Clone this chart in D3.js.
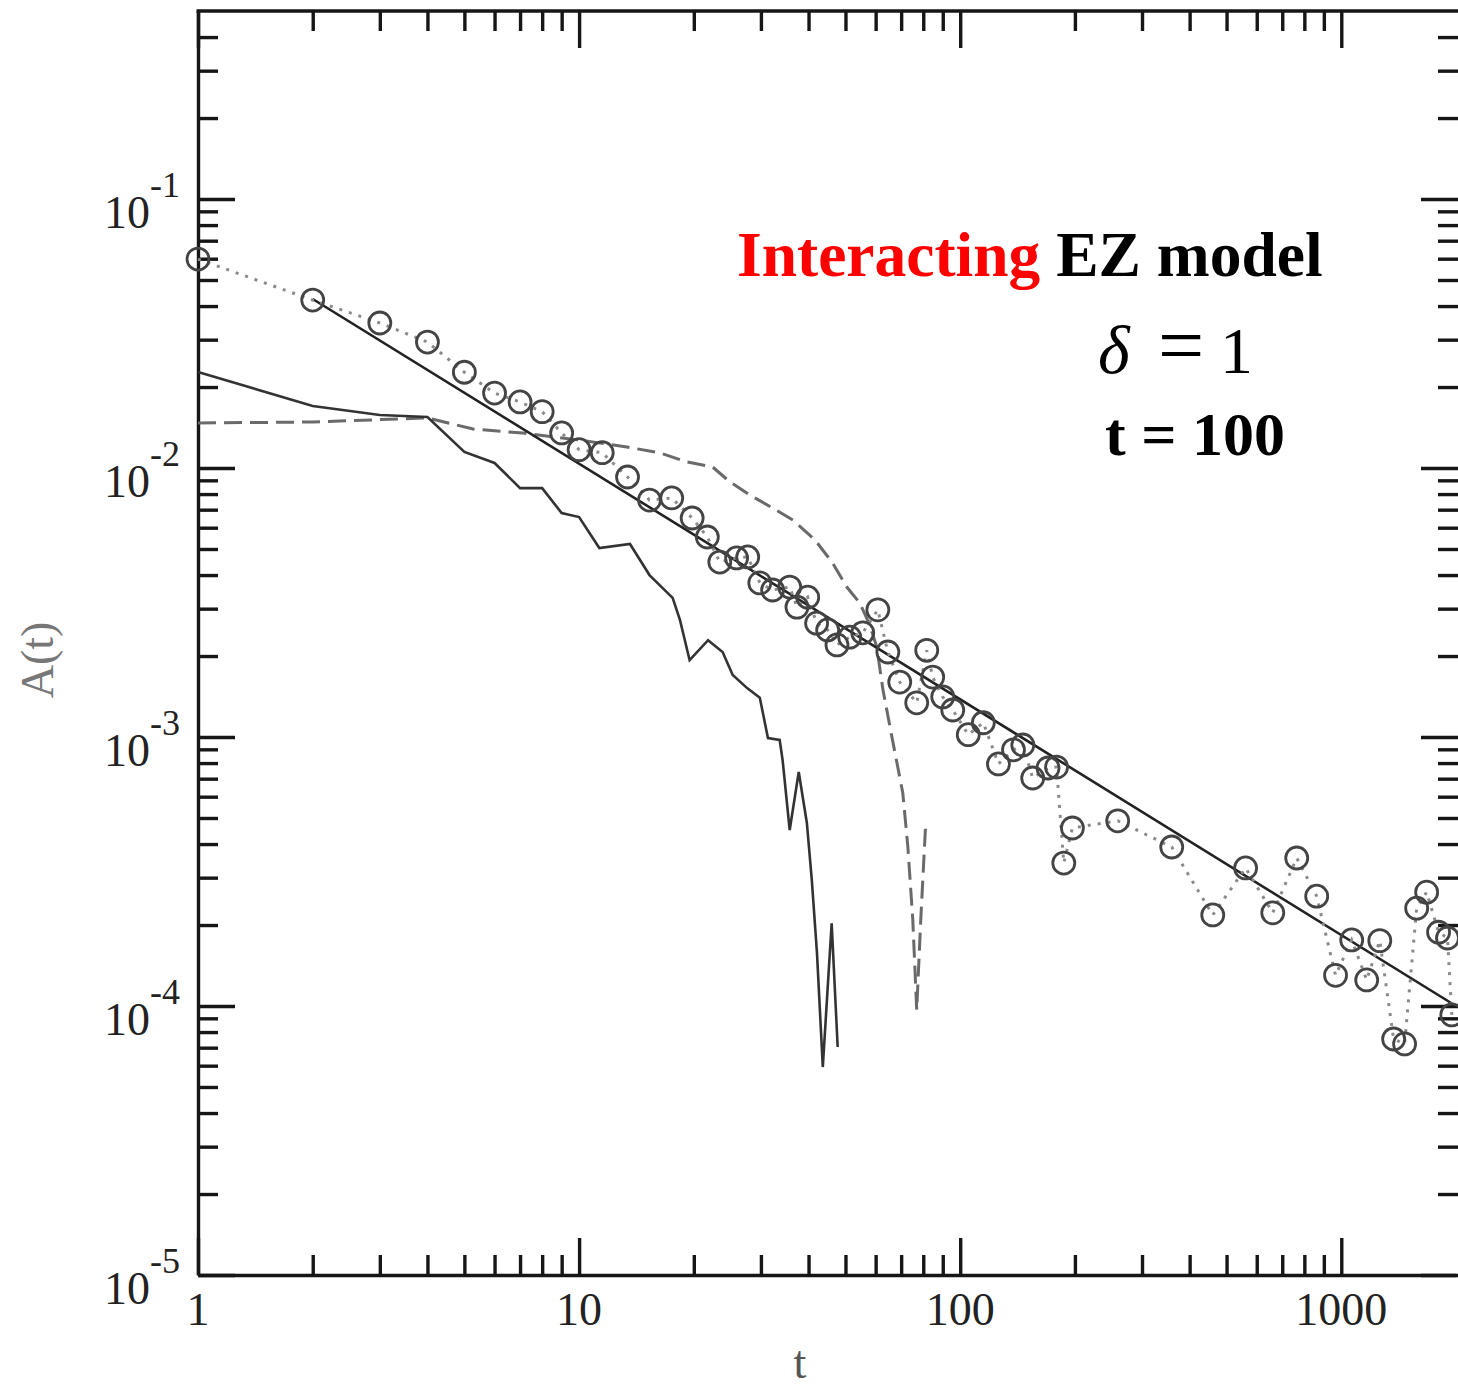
<!DOCTYPE html>
<html>
<head>
<meta charset="utf-8">
<script src="https://cdn.jsdelivr.net/npm/d3@7"></script>
<style>
  body { margin: 0; background: #fff; }
  svg { display: block; }
  .lbl { font-family: "Liberation Serif", "DejaVu Serif", serif; }
</style>
</head>
<body>
<div id="chart"></div>
<script>
// circles (joined by a dotted line)
var circleT = [1, 2, 3, 4, 5, 6, 7, 8, 9, 10,
  11.5, 13.4, 15.3, 17.5, 19.8, 21.7, 23.4, 25.9, 27.7, 29.8,
  32.2, 35.7, 37.3, 39.8, 42, 44.9, 47.5, 51.3, 55.5, 60.8,
  64.6, 69.4, 76.9, 81.7, 84.7, 90, 95.6, 105, 115, 126,
  138, 146, 155, 170, 179, 187, 197, 259, 359, 460,
  561, 661, 764, 862, 966, 1065, 1166, 1262, 1372, 1466,
  1577, 1675, 1800, 1900, 1950];
var circleA = [0.0598, 0.0421, 0.0346, 0.0294, 0.0227, 0.0190, 0.0176, 0.0162, 0.0135, 0.0117,
  0.0114, 0.00926, 0.00760, 0.00774, 0.00652, 0.00554, 0.00447, 0.00463, 0.00467, 0.00374,
  0.00352, 0.00361, 0.00304, 0.00331, 0.00265, 0.00250, 0.00220, 0.00235, 0.00244, 0.00297,
  0.00207, 0.00160, 0.00134, 0.00210, 0.00167, 0.00141, 0.00126, 0.00102, 0.00113, 0.000794,
  0.000896, 0.000934, 0.000704, 0.000767, 0.000773, 0.000340, 0.000459, 0.000488, 0.000390, 0.000218,
  0.000326, 0.000222, 0.000355, 0.000256, 0.000130, 0.000176, 0.000125, 0.000175, 0.0000754, 0.0000723,
  0.000231, 0.000265, 0.000188, 0.000179, 0.0000927];

// power-law fit
var fitT = [2, 2000];
var fitA = [0.0425, 0.0001];

// solid jagged curve
var solidT = [1, 2, 3, 4, 5, 6, 7, 8, 9, 10,
  11.3, 13.6, 15.3, 17.6, 18.4, 19.5, 21.8, 23.8, 25.3, 27.6,
  29.8, 31.3, 33.6, 34.2, 35.7, 37.7, 39.6, 40.8, 42.1, 43.6,
  46.0, 47.7];
var solidA = [0.02275, 0.0170, 0.01574, 0.01547, 0.01147, 0.01044, 0.00842, 0.00842, 0.00680, 0.00657,
  0.00504, 0.00522, 0.00400, 0.00329, 0.00272, 0.00193, 0.00229, 0.00207, 0.00170, 0.00152,
  0.00140, 0.000991, 0.000975, 0.000821, 0.000451, 0.000741, 0.000479, 0.000294, 0.000157, 0.0000593,
  0.000203, 0.0000704];

// dashed curve
var dashT = [1, 2, 4, 5.27, 7.12, 10, 13.35, 16.3, 19.2, 22.4,
  24.9, 28.05, 32.2, 36.4, 41.6, 46.3, 50.4, 54.5, 57.9, 60.4,
  62.7, 66.2, 70.7, 72.9, 75.1, 76.9, 78.8, 81.2];
var dashA = [0.0147, 0.01483, 0.01535, 0.01396, 0.01349, 0.01271, 0.01197, 0.01138, 0.01053, 0.01009,
  0.00887, 0.00794, 0.00710, 0.00641, 0.00540, 0.00443, 0.00361, 0.00315, 0.00261, 0.00216,
  0.00150, 0.00100, 0.000619, 0.000390, 0.000209, 0.0000966, 0.000209, 0.000479];

var xMajor = [1, 10, 100, 1000];
var xTickLabels = ["1", "10", "100", "1000"];
var yMajor = [1e-1, 1e-2, 1e-3, 1e-4, 1e-5];
var yTickExps = ["-1", "-2", "-3", "-4", "-5"];

var W = 1458, H = 1388;
var L = 198, R = 1456, T = 11, B = 1275;

var svg = d3.select("#chart").append("svg")
  .attr("width", W).attr("height", H);

var x = d3.scaleLog().domain([1, 2000]).range([L, R]);
var y = d3.scaleLog().domain([1e-5, 0.5]).range([B, T]);

var xMinor = [], yMinor = [];
[1, 10, 100, 1000].forEach(function(d) {
  for (var k = 2; k <= 9; k++) if (d * k < 2000) xMinor.push(d * k);
});
[1e-5, 1e-4, 1e-3, 1e-2, 1e-1].forEach(function(d) {
  for (var k = 2; k <= 9; k++) if (d * k < 0.5) yMinor.push(d * k);
});

function addAxis(axisFn, scale, vals, size, tx, ty, keepPath) {
  var g = svg.append("g")
    .attr("class", "axis")
    .attr("transform", "translate(" + tx + "," + ty + ")")
    .call(axisFn(scale).tickValues(vals).tickSize(-size).tickSizeOuter(0).tickFormat(""));
  if (!keepPath) g.select(".domain").remove();
  g.selectAll("path, line")
    .attr("stroke", "#161616")
    .attr("stroke-width", 3.4);
  return g;
}

// frame + ticks on all four sides
addAxis(d3.axisBottom, x, xMajor, 37, 0, B, true);
addAxis(d3.axisBottom, x, xMinor, 20, 0, B, false);
addAxis(d3.axisTop, x, xMajor, 37, 0, T, false);
addAxis(d3.axisTop, x, xMinor, 20, 0, T, false);
addAxis(d3.axisLeft, y, yMajor, 37, L, 0, true);
addAxis(d3.axisLeft, y, yMinor, 20, L, 0, false);
addAxis(d3.axisRight, y, yMajor, 37, W, 0, false);
addAxis(d3.axisRight, y, yMinor, 20, W, 0, false);
svg.append("line")
  .attr("x1", L - 1.5).attr("x2", W).attr("y1", T).attr("y2", T)
  .attr("stroke", "#161616").attr("stroke-width", 3.4);

// tick labels
svg.selectAll(".xlab").data(xMajor).enter().append("text")
  .attr("class", "lbl xlab")
  .attr("x", function(d) { return x(d); })
  .attr("y", B + 50)
  .attr("text-anchor", "middle")
  .attr("font-size", 46)
  .attr("fill", "#222")
  .text(function(d, i) { return xTickLabels[i]; });

var ylab = svg.selectAll(".ylab").data(yMajor).enter().append("text")
  .attr("class", "lbl ylab")
  .attr("x", 180)
  .attr("y", function(d) { return y(d) + 29; })
  .attr("text-anchor", "end")
  .attr("fill", "#222");
ylab.append("tspan").attr("font-size", 46).text("10");
ylab.append("tspan").attr("font-size", 36).attr("dy", -31)
  .text(function(d, i) { return yTickExps[i]; });

// axis titles
svg.append("text").attr("class", "lbl")
  .attr("x", 800).attr("y", 1378)
  .attr("text-anchor", "middle")
  .attr("font-size", 46).attr("fill", "#555")
  .text("t");
svg.append("text").attr("class", "lbl")
  .attr("transform", "translate(53,660) rotate(-90)")
  .attr("text-anchor", "middle")
  .attr("font-size", 46).attr("fill", "#777")
  .text("A(t)");

var line = d3.line()
  .x(function(d) { return x(d[0]); })
  .y(function(d) { return y(d[1]); });

svg.append("path")
  .datum(d3.zip(dashT, dashA))
  .attr("d", line)
  .attr("fill", "none")
  .attr("stroke", "#6a6a6a")
  .attr("stroke-width", 3)
  .attr("stroke-dasharray", "18,8");

svg.append("path")
  .datum(d3.zip(solidT, solidA))
  .attr("d", line)
  .attr("fill", "none")
  .attr("stroke", "#333")
  .attr("stroke-width", 2.6);

svg.append("path")
  .datum(d3.zip(fitT, fitA))
  .attr("d", line)
  .attr("fill", "none")
  .attr("stroke", "#222")
  .attr("stroke-width", 2.6);

var pts = d3.zip(circleT, circleA);
svg.append("path")
  .datum(pts)
  .attr("d", line)
  .attr("fill", "none")
  .attr("stroke", "#8a8a8a")
  .attr("stroke-width", 3)
  .attr("stroke-dasharray", "3,7");

svg.selectAll(".pt").data(pts).enter().append("circle")
  .attr("class", "pt")
  .attr("cx", function(d) { return x(d[0]); })
  .attr("cy", function(d) { return y(d[1]); })
  .attr("r", 11)
  .attr("fill", "none")
  .attr("stroke", "#444")
  .attr("stroke-width", 2.8);

// annotations
var t1 = svg.append("text").attr("class", "lbl")
  .attr("x", 737).attr("y", 276)
  .attr("font-size", 63.5).attr("font-weight", "bold");
t1.append("tspan").attr("fill", "#ff0000").text("Interacting");
t1.append("tspan").attr("fill", "#000").text(" EZ model");

var t2 = svg.append("text").attr("class", "lbl")
  .attr("y", 373).attr("fill", "#000");
t2.append("tspan").attr("x", 1098).attr("font-size", 68).attr("font-style", "italic").text("\u03b4");
t2.append("tspan").attr("x", 1158).attr("font-size", 82).text("=");
t2.append("tspan").attr("x", 1220).attr("font-size", 66).text("1");

svg.append("text").attr("class", "lbl")
  .attr("x", 1105).attr("y", 455)
  .attr("font-size", 62).attr("font-weight", "bold").attr("fill", "#000")
  .text("t = 100");
</script>
</body>
</html>
